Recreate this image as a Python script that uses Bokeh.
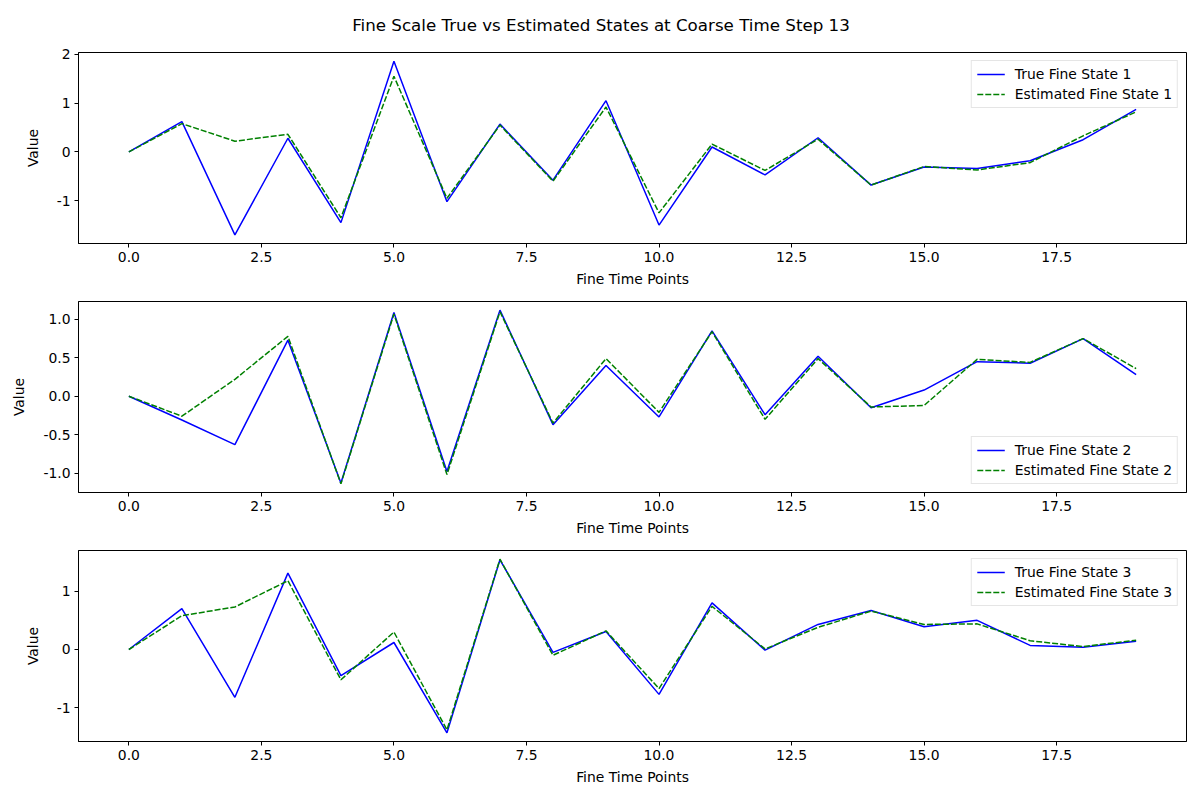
from bokeh.plotting import figure
from bokeh.models import Div, FixedTicker, PrintfTickFormatter, Range1d, Legend, LegendItem
from bokeh.layouts import column
from bokeh.embed import file_html
from bokeh.resources import INLINE

t = list(range(20))

true1 = [0.0, 0.62, -1.70, 0.28, -1.45, 1.86, -1.02, 0.57, -0.58, 1.05,
         -1.50, 0.10, -0.47, 0.29, -0.68, -0.31, -0.34, -0.18, 0.25, 0.87]
est1 = [0.0, 0.58, 0.22, 0.36, -1.35, 1.55, -0.95, 0.55, -0.60, 0.92,
        -1.25, 0.16, -0.38, 0.26, -0.68, -0.30, -0.37, -0.22, 0.33, 0.82]

true2 = [0.0, -0.31, -0.63, 0.73, -1.13, 1.09, -0.98, 1.12, -0.37, 0.40,
         -0.27, 0.85, -0.24, 0.52, -0.15, 0.08, 0.45, 0.43, 0.75, 0.28]
est2 = [0.0, -0.26, 0.22, 0.78, -1.14, 1.07, -1.02, 1.10, -0.35, 0.49,
        -0.21, 0.84, -0.30, 0.49, -0.14, -0.12, 0.48, 0.44, 0.75, 0.36]

true3 = [0.0, 0.70, -0.82, 1.31, -0.45, 0.12, -1.43, 1.54, -0.05, 0.31,
         -0.77, 0.80, -0.01, 0.43, 0.67, 0.39, 0.50, 0.07, 0.04, 0.14]
est3 = [0.0, 0.58, 0.73, 1.18, -0.52, 0.30, -1.38, 1.55, -0.10, 0.32,
        -0.67, 0.74, 0.01, 0.38, 0.66, 0.43, 0.44, 0.15, 0.05, 0.16]

x_ticks = [0, 2.5, 5, 7.5, 10, 12.5, 15, 17.5]
y_ticks = [[-1, 0, 1, 2], [-1.0, -0.5, 0.0, 0.5, 1.0], [-1, 0, 1]]
y_fmt = ["%d", "%.1f", "%d"]
legend_loc = ["top_right", "bottom_right", "top_right"]
title_text = "Fine Scale True vs Estimated States at Coarse Time Step 13"

FONT = "DejaVu Sans"
FS = "13.9px"


def make_panel(i, tv, ev):
    lo = min(min(tv), min(ev))
    hi = max(max(tv), max(ev))
    pad = (hi - lo) * 0.05
    xpad = (max(t) - min(t)) * 0.05
    p = figure(frame_width=1108, frame_height=191, output_backend="svg",
               toolbar_location=None,
               x_range=Range1d(min(t) - xpad, max(t) + xpad),
               y_range=Range1d(lo - pad, hi + pad),
               min_border_left=78, min_border_right=6,
               min_border_top=12, min_border_bottom=44)
    p.xgrid.visible = False
    p.ygrid.visible = False
    p.outline_line_color = "black"
    p.outline_line_width = 1
    p.background_fill_color = "white"
    p.border_fill_color = "white"

    r1 = p.line(t, tv, line_color="#0000ff", line_width=1.5)
    r2 = p.line(t, ev, line_color="#008000", line_width=1.5, line_dash="6 2")

    for ax in (p.xaxis[0], p.yaxis[0]):
        ax.axis_line_color = "black"
        ax.major_tick_line_color = "black"
        ax.major_tick_out = 4
        ax.major_tick_in = 0
        ax.minor_tick_line_color = None
        ax.major_label_text_font = FONT
        ax.major_label_text_font_size = FS
        ax.major_label_text_color = "black"
        ax.axis_label_text_font = FONT
        ax.axis_label_text_font_size = FS
        ax.axis_label_text_font_style = "normal"
        ax.axis_label_text_color = "black"
        ax.major_label_standoff = 4
        ax.axis_label_standoff = 6
    p.yaxis[0].axis_label_standoff = 13

    p.xaxis[0].ticker = FixedTicker(ticks=x_ticks)
    p.xaxis[0].formatter = PrintfTickFormatter(format="%.1f")
    p.xaxis[0].axis_label = "Fine Time Points"
    p.yaxis[0].ticker = FixedTicker(ticks=y_ticks[i])
    p.yaxis[0].formatter = PrintfTickFormatter(format=y_fmt[i])
    p.yaxis[0].axis_label = "Value"

    legend = Legend(items=[
        LegendItem(label=f"True Fine State {i+1}", renderers=[r1]),
        LegendItem(label=f"Estimated Fine State {i+1}", renderers=[r2]),
    ], location=legend_loc[i])
    legend.label_text_font = FONT
    legend.label_text_font_size = FS
    legend.label_text_color = "black"
    legend.border_line_color = "#cccccc"
    legend.border_line_width = 1
    legend.background_fill_alpha = 0.8
    legend.glyph_width = 28
    legend.glyph_height = 16
    legend.label_height = 16
    legend.spacing = 4
    legend.padding = 5
    legend.margin = 8
    legend.label_standoff = 10
    p.add_layout(legend, "center")
    return p


panels = [make_panel(0, true1, est1), make_panel(1, true2, est2), make_panel(2, true3, est3)]

title = Div(text=title_text, width=1192, height=30,
            styles={"text-align": "center", "font-family": FONT, "font-size": "16.7px",
                    "color": "black", "width": "1184px", "padding-left": "8px",
                    "line-height": "40px"})

layout = column(title, *panels, spacing=0)

open("out.html", "w").write(file_html(layout, INLINE))
